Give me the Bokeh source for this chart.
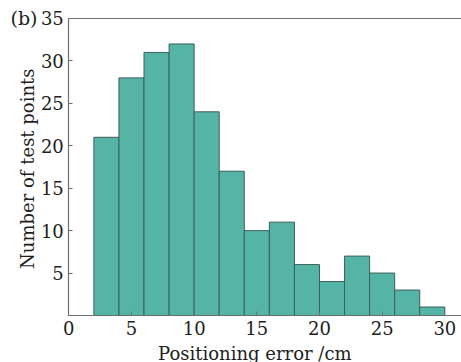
from bokeh.plotting import figure
from bokeh.models import FixedTicker, Range1d, Label, LinearAxis
from bokeh.embed import file_html
from bokeh.resources import INLINE

bin_left = [2, 4, 6, 8, 10, 12, 14, 16, 18, 20, 22, 24, 26, 28]
bin_right = [4, 6, 8, 10, 12, 14, 16, 18, 20, 22, 24, 26, 28, 30]
counts = [21, 28, 31, 32, 24, 17, 10, 11, 6, 4, 7, 5, 3, 1]
x_ticks = [0, 5, 10, 15, 20, 25, 30]
y_ticks = [5, 10, 15, 20, 25, 30, 35]
x_max = 31.35
y_max = 35

FONT = "DejaVu Serif"
TXT = "#1e1e1e"
AX = "#6e6e6e"

p = figure(width=461, height=362, output_backend="svg", toolbar_location=None,
           x_range=Range1d(-5.45, 31.33), y_range=Range1d(-5.54, 37.12),
           x_axis_location=None, y_axis_location=None,
           min_border_left=0, min_border_right=0, min_border_top=0, min_border_bottom=0)
p.background_fill_color = "white"
p.border_fill_color = "white"
p.outline_line_color = None
p.xgrid.visible = False
p.ygrid.visible = False

p.quad(left=bin_left, right=bin_right, top=counts, bottom=0,
       fill_color="#54b5a7", line_color="#3d5f5a", line_width=1)

# top frame line
p.segment(x0=[0], y0=[y_max], x1=[x_max], y1=[y_max], line_color=AX, line_width=1.2)

xax = LinearAxis(fixed_location=0, bounds=(0, x_max), ticker=FixedTicker(ticks=x_ticks))
yax = LinearAxis(fixed_location=0, bounds=(0, y_max), ticker=FixedTicker(ticks=y_ticks))
for ax in (xax, yax):
    ax.axis_line_color = AX
    ax.axis_line_width = 1.2
    ax.major_tick_in = 4
    ax.major_tick_out = 0
    ax.minor_tick_in = 0
    ax.minor_tick_out = 0
    ax.major_tick_line_color = AX
    ax.major_label_text_font = FONT
    ax.major_label_text_font_size = "18px"
    ax.major_label_text_color = TXT
xax.major_label_standoff = 6
yax.major_label_standoff = 5
p.add_layout(xax, "below")
p.add_layout(yax, "left")

p.add_layout(Label(x=14.84, y=-4.5, text="Positioning error /cm", text_font=FONT,
                   text_font_size="18px", text_color=TXT,
                   text_align="center", text_baseline="alphabetic"))
p.add_layout(Label(x=-3.3, y=17.3, text="Number of test points", text_font=FONT,
                   text_font_size="18px", text_color=TXT, angle=1.5708,
                   text_align="center", text_baseline="middle"))
p.add_layout(Label(x=-4.65, y=35, text="(b)", text_font=FONT, text_font_size="19px",
                   text_color=TXT, text_baseline="middle", text_align="left"))

open("out.html", "w").write(file_html(p, INLINE))
